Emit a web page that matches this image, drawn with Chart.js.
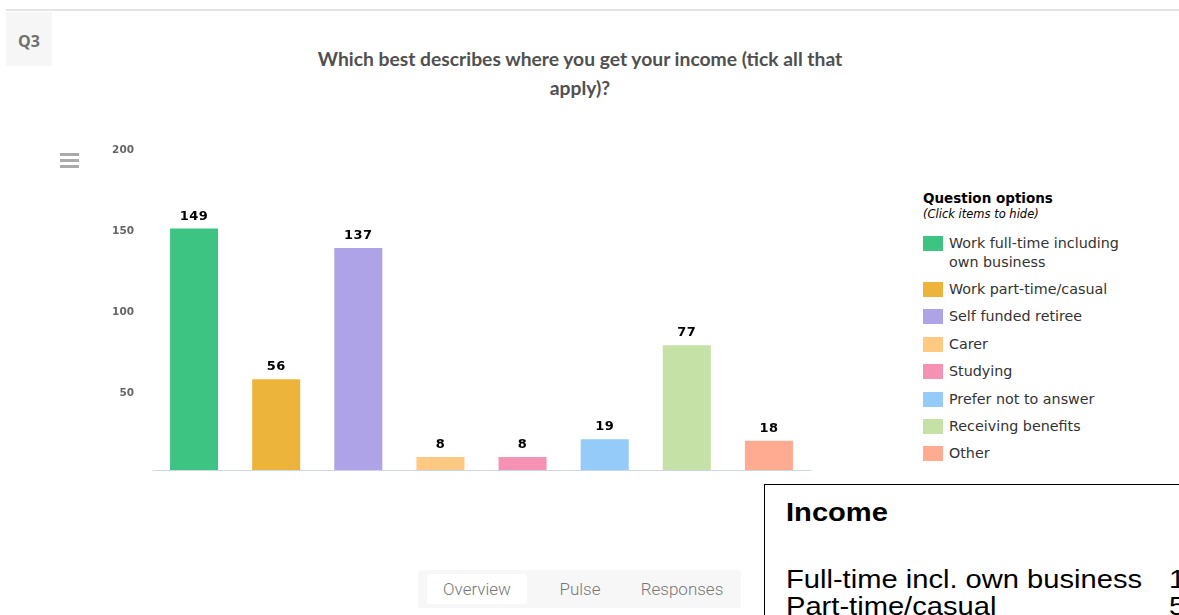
<!DOCTYPE html>
<html><head><meta charset="utf-8">
<script src="https://cdn.jsdelivr.net/npm/chart.js@4"></script>
<style>
html,body{margin:0;padding:0;background:#fff;width:1179px;height:615px;overflow:hidden;position:relative;font-family:"Open Sans",sans-serif;}
#topline{position:absolute;left:6px;top:9px;width:1173px;height:2px;background:#e3e3e3;}
#q3{position:absolute;left:6px;top:12px;width:46px;height:54px;background:#f6f6f6;}
#q3 span{position:absolute;left:0;width:46px;top:18px;line-height:24px;text-align:center;color:#707070;font:bold 16px "Open Sans",sans-serif;}
#title{position:absolute;left:230px;top:44px;width:700px;text-align:center;color:#505050;font:bold 19.3px "Lato",sans-serif;line-height:29px;}
#menu{position:absolute;left:60px;top:153px;width:19px;}
#menu div{height:3px;background:#aaa;margin-bottom:3px;}
#wrap{position:absolute;left:0;top:145px;width:830px;height:340px;overflow:hidden;}
#wrap canvas{position:absolute;left:0;top:-29px;}
#legend{position:absolute;left:923px;top:189px;font-family:"DejaVu Sans",sans-serif;color:#333;}
#legend .h{position:absolute;left:0;top:0;font:bold 13.5px "DejaVu Sans",sans-serif;color:#000;white-space:nowrap;line-height:18px;}
#legend .s{position:absolute;left:0;top:17px;font:italic 11.5px "DejaVu Sans",sans-serif;color:#000;white-space:nowrap;line-height:16px;}
.item{position:absolute;left:0;font-size:14.3px;line-height:19px;white-space:nowrap;}
.item i{position:absolute;left:0;top:2px;width:20px;height:15px;}
.item span{position:absolute;left:26px;top:0;}
#tabs{position:absolute;left:418px;top:570px;width:323px;height:38px;background:#f7f7f7;border-radius:3px;font:300 17px "Roboto",sans-serif;color:#777;}
#tabs div{position:absolute;top:4px;height:30px;line-height:30px;text-align:center;}
#income{position:absolute;left:764px;top:484px;width:420px;height:140px;border:1px solid #000;background:#fff;font-family:"Liberation Sans",Arial,sans-serif;color:#000;}
#income .t{position:absolute;left:21px;white-space:nowrap;font-size:26px;transform:scaleX(1.12);transform-origin:0 0;}
</style></head><body>
<div id="topline"></div>
<div id="q3"><span>Q3</span></div>
<div id="title">Which best describes where you get your income (tick all that<br>apply)?</div>
<div id="menu"><div></div><div></div><div></div></div>
<div id="wrap"><canvas id="c" width="830" height="384"></canvas></div>
<div id="legend"></div>
<div id="tabs">
 <div style="left:9px;width:100px;background:#fff;border-radius:3px;">Overview</div>
 <div style="left:122px;width:80px;">Pulse</div>
 <div style="left:214px;width:100px;">Responses</div>
</div>
<div id="income">
 <div class="t" style="top:12px;font-weight:bold;">Income</div>
 <div class="t" style="top:79px;">Full-time incl. own business</div>
 <div class="t" style="left:404px;top:79px;">1</div>
 <div class="t" style="top:106px;">Part-time/casual</div>
 <div class="t" style="left:404px;top:106px;">5</div>
</div>
<script>
const categories = ["Work full-time including own business","Work part-time/casual","Self funded retiree","Carer","Studying","Prefer not to answer","Receiving benefits","Other"];
const legendLines = [["Work full-time including","own business"],["Work part-time/casual"],["Self funded retiree"],["Carer"],["Studying"],["Prefer not to answer"],["Receiving benefits"],["Other"]];
const values = [149,56,137,8,8,19,77,18];
const colors = ["#3ec482","#edb43c","#ada3e6","#ffc982","#f592b4","#94cbf8","#c5e1a5","#ffab91"];
const yTicks = [50,100,150,200];

// legend
const lg = document.getElementById('legend');
lg.innerHTML = '<div class="h">Question options</div><div class="s">(Click items to hide)</div>';
const rowTops = [45,91,118,146,173,201,228,255];
legendLines.forEach((l,i)=>{
  const d=document.createElement('div');d.className='item';d.style.top=rowTops[i]+'px';
  d.innerHTML='<i style="background:'+colors[i]+'"></i><span>'+l.join('<br>')+'</span>';
  lg.appendChild(d);
});

const labelPlugin = {
  id:'vals',
  afterDatasetsDraw(chart){
    const ctx=chart.ctx;
    const meta=chart.getDatasetMeta(0);
    ctx.save();
    ctx.font='bold 13px "DejaVu Sans", sans-serif';
    try{ctx.letterSpacing='0.5px';}catch(e){}
    ctx.fillStyle='#000';
    ctx.textAlign='center';ctx.textBaseline='alphabetic';
    meta.data.forEach((b,i)=>{ctx.fillText(String(values[i]), b.x, b.y-9);});
    ctx.restore();
  }
};

new Chart(document.getElementById('c'),{
  type:'bar',
  data:{labels:categories,datasets:[{data:values,backgroundColor:colors,borderWidth:0,barPercentage:0.585,categoryPercentage:1}]},
  options:{
    responsive:false,animation:false,
    layout:{padding:{left:0,right:20,top:30,bottom:30}},
    plugins:{legend:{display:false},tooltip:{enabled:false}},
    scales:{
      x:{grid:{display:false},border:{display:true,color:'#ccd6eb',width:1},ticks:{display:false},
         afterFit(s){s.height=0;}},
      y:{min:0,max:200,grid:{display:false},border:{display:false},
         afterBuildTicks(s){s.ticks=yTicks.map(v=>({value:v}));},
         ticks:{padding:11,labelOffset:4.5,color:'#666',font:{family:'"DejaVu Sans", sans-serif',weight:'bold',size:10.5}},
         afterFit(s){s.width=153;}}
    }
  },
  plugins:[labelPlugin]
});
</script>
</body></html>
